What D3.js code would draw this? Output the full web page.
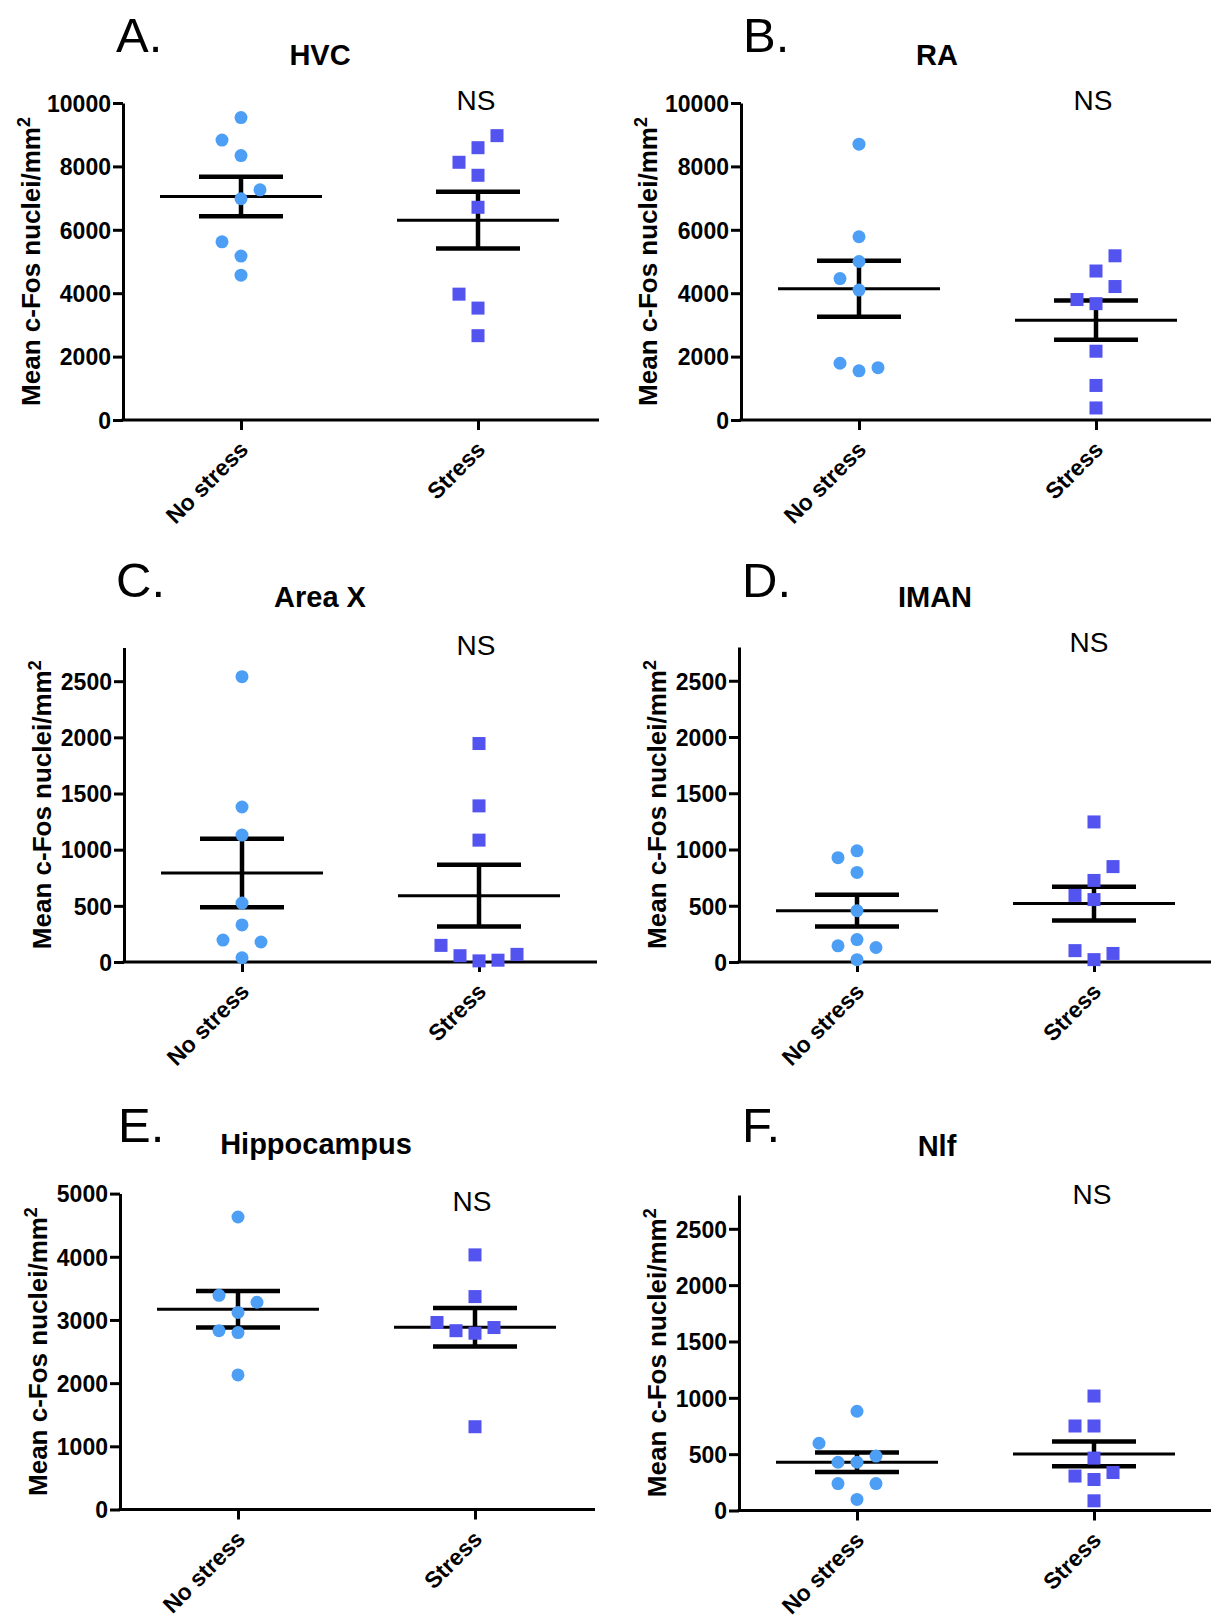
<!DOCTYPE html>
<html>
<head>
<meta charset="utf-8">
<script src="https://cdn.jsdelivr.net/npm/d3@7"></script>
<style>
  body { margin: 0; background: #fff; }
  text { font-family: "Liberation Sans", Arial, sans-serif; }
</style>
</head>
<body>
<svg id="chart" width="1211" height="1620"></svg>
<script>
var groups = ["No stress", "Stress"];

// HVC
var hvcNoStress = [9540, 8830, 8340, 7260, 6980, 5620, 5170, 4570];
var hvcNoStressCol = [0, -1, 0, 1, 0, -1, 0, 0];
var hvcStress = [8970, 8590, 8130, 7720, 6710, 3970, 3530, 2660];
var hvcStressCol = [1, 0, -1, 0, 0, -1, 0, 0];
var hvcMean = [7050, 6305];
var hvcSem = [620, 895];

// RA
var raNoStress = [8700, 5780, 5000, 4460, 4100, 1790, 1650, 1550];
var raNoStressCol = [0, 0, 0, -1, 0, -1, 1, 0];
var raStress = [5180, 4700, 4210, 3800, 3670, 2170, 1090, 380];
var raStressCol = [1, 0, 1, -1, 0, 0, 0, 0];
var raMean = [4140, 3150];
var raSem = [880, 620];

// Area X
var areaXNoStress = [2540, 1380, 1130, 525, 330, 195, 178, 38];
var areaXNoStressCol = [0, 0, 0, 0, 0, -1, 1, 0];
var areaXStress = [1945, 1390, 1085, 148, 56, 10, 16, 68];
var areaXStressCol = [0, 0, 0, -2, -1, 0, 1, 2];
var areaXMean = [792, 590];
var areaXSem = [305, 275];

// IMAN
var imanNoStress = [988, 927, 796, 456, 199, 144, 129, 21];
var imanNoStressCol = [0, -1, 0, 0, 0, -1, 1, 0];
var imanStress = [1245, 848, 725, 592, 555, 101, 76, 21];
var imanStressCol = [0, 1, 0, -1, 0, -1, 1, 0];
var imanMean = [456, 520];
var imanSem = [141, 150];

// Hippocampus
var hippNoStress = [4630, 3390, 3280, 3120, 2830, 2800, 2130];
var hippNoStressCol = [0, -1, 1, 0, -1, 0, 0];
var hippStress = [4030, 3370, 2960, 2830, 2790, 2880, 1310];
var hippStressCol = [0, 0, -2, -1, 0, 1, 0];
var hippMean = [3170, 2885];
var hippSem = [290, 305];

// Nlf
var nlfNoStress = [881, 597, 483, 428, 428, 239, 239, 98];
var nlfNoStressCol = [0, -2, 1, -1, 0, -1, 1, 0];
var nlfStress = [1016, 750, 750, 465, 306, 337, 275, 86];
var nlfStressCol = [0, -1, 0, 0, -1, 1, 0, 0];
var nlfMean = [428, 502];
var nlfSem = [86, 110];

var ticks10k = [0, 2000, 4000, 6000, 8000, 10000];
var ticks2500 = [0, 500, 1000, 1500, 2000, 2500];
var ticks5k = [0, 1000, 2000, 3000, 4000, 5000];

var circleColor = "#4d9ff6";
var squareColor = "#5353f0";

var panels = [
  {letter: "A.", title: "HVC", a: hvcNoStress, aCol: hvcNoStressCol, b: hvcStress, bCol: hvcStressCol, mean: hvcMean, sem: hvcSem,
   yMax: 10000, ticks: ticks10k,
   ax: 123, y0: 420, yTop: 103, xEnd: 599, lx: 116, ly: 52, tx: 320, ty: 65, nx: 476, ny: 110, labOff: 83},
  {letter: "B.", title: "RA", a: raNoStress, aCol: raNoStressCol, b: raStress, bCol: raStressCol, mean: raMean, sem: raSem,
   yMax: 10000, ticks: ticks10k,
   ax: 741, y0: 420, yTop: 103, xEnd: 1211, lx: 743, ly: 52, tx: 937, ty: 65, nx: 1093, ny: 110, labOff: 84},
  {letter: "C.", title: "Area X", a: areaXNoStress, aCol: areaXNoStressCol, b: areaXStress, bCol: areaXStressCol, mean: areaXMean, sem: areaXSem,
   yMax: 2800, ticks: ticks2500,
   ax: 124, y0: 962, yTop: 647.5, xEnd: 597, lx: 116, ly: 597, tx: 320, ty: 607, nx: 476, ny: 655, labOff: 73},
  {letter: "D.", title: "IMAN", a: imanNoStress, aCol: imanNoStressCol, b: imanStress, bCol: imanStressCol, mean: imanMean, sem: imanSem,
   yMax: 2800, ticks: ticks2500,
   ax: 739, y0: 962, yTop: 647, xEnd: 1211, lx: 742, ly: 597, tx: 935, ty: 607, nx: 1089, ny: 652, labOff: 73},
  {letter: "E.", title: "Hippocampus", a: hippNoStress, aCol: hippNoStressCol, b: hippStress, bCol: hippStressCol, mean: hippMean, sem: hippSem,
   yMax: 5000, ticks: ticks5k,
   ax: 120, y0: 1509.5, yTop: 1193.6, xEnd: 595, lx: 118, ly: 1142, tx: 316, ty: 1154, nx: 472, ny: 1211, labOff: 73},
  {letter: "F.", title: "Nlf", a: nlfNoStress, aCol: nlfNoStressCol, b: nlfStress, bCol: nlfStressCol, mean: nlfMean, sem: nlfSem,
   yMax: 2800, ticks: ticks2500,
   ax: 739, y0: 1510.5, yTop: 1195, xEnd: 1211, lx: 742, ly: 1142, tx: 937, ty: 1156, nx: 1092, ny: 1204, labOff: 73}
];

var svg = d3.select("#chart");
var jitter = 19, meanHalf = 81, capHalf = 42, r = 6.5, sq = 13;

panels.forEach(function(p) {
  var g = svg.append("g");
  var y = d3.scaleLinear().domain([0, p.yMax]).range([p.y0, p.yTop]);
  var x = d3.scalePoint().domain(groups).range([p.ax + 118, p.ax + 355]);

  // y axis
  var ya = g.append("g").attr("transform", "translate(" + p.ax + ",0)")
    .call(d3.axisLeft(y).tickValues(p.ticks).tickSize(10).tickSizeOuter(0).tickPadding(2).tickFormat(d3.format("d")));
  ya.selectAll("path, line").attr("stroke", "#000").attr("stroke-width", 3);
  ya.selectAll("text").attr("fill", "#000").style("font-size", "23px").style("font-weight", "bold").attr("dy", "0.36em");

  // x axis
  g.append("line").attr("x1", p.ax - 1.5).attr("x2", p.xEnd).attr("y1", y(0)).attr("y2", y(0))
    .attr("stroke", "#000").attr("stroke-width", 3);
  var xa = g.append("g").attr("transform", "translate(0," + y(0) + ")")
    .call(d3.axisBottom(x).tickSize(10).tickSizeOuter(0));
  xa.select(".domain").remove();
  xa.selectAll("line").attr("stroke", "#000").attr("stroke-width", 3);
  xa.selectAll("text").attr("fill", "#000").style("font-size", "23px").style("font-weight", "bold")
    .attr("text-anchor", "end").attr("x", 0).attr("y", 0).attr("dy", 0)
    .attr("transform", "translate(8,31) rotate(-45)");

  // y label
  var lab = g.append("text").attr("transform", "translate(" + (p.ax - p.labOff) + "," + ((p.y0 + p.yTop) / 2) + ") rotate(-90)")
    .attr("text-anchor", "middle").style("font-size", "26px").style("font-weight", "bold");
  lab.append("tspan").text("Mean c-Fos nuclei/mm");
  lab.append("tspan").attr("dy", "-0.55em").style("font-size", "18px").text("2");

  // letter, title, NS
  g.append("text").attr("x", p.lx).attr("y", p.ly).style("font-size", "49px").text(p.letter);
  g.append("text").attr("x", p.tx).attr("y", p.ty).attr("text-anchor", "middle")
    .style("font-size", "29px").style("font-weight", "bold").text(p.title);
  g.append("text").attr("x", p.nx).attr("y", p.ny).attr("text-anchor", "middle")
    .style("font-size", "28px").text("NS");

  // mean and SEM
  groups.forEach(function(grp, i) {
    var cx = x(grp), m = p.mean[i], s = p.sem[i];
    g.append("line").attr("x1", cx - meanHalf).attr("x2", cx + meanHalf).attr("y1", y(m)).attr("y2", y(m))
      .attr("stroke", "#000").attr("stroke-width", 3);
    g.append("line").attr("x1", cx).attr("x2", cx).attr("y1", y(m - s)).attr("y2", y(m + s))
      .attr("stroke", "#000").attr("stroke-width", 4.5);
    [m - s, m + s].forEach(function(v) {
      g.append("line").attr("x1", cx - capHalf).attr("x2", cx + capHalf).attr("y1", y(v)).attr("y2", y(v))
        .attr("stroke", "#000").attr("stroke-width", 4.5);
    });
  });

  // points
  g.selectAll(".pa").data(p.a).enter().append("circle")
    .attr("cx", function(d, i) { return x(groups[0]) + p.aCol[i] * jitter; })
    .attr("cy", function(d) { return y(d); })
    .attr("r", r).attr("fill", circleColor);
  g.selectAll(".pb").data(p.b).enter().append("rect")
    .attr("x", function(d, i) { return x(groups[1]) + p.bCol[i] * jitter - sq / 2; })
    .attr("y", function(d) { return y(d) - sq / 2; })
    .attr("width", sq).attr("height", sq).attr("fill", squareColor);
});
</script>
</body>
</html>
